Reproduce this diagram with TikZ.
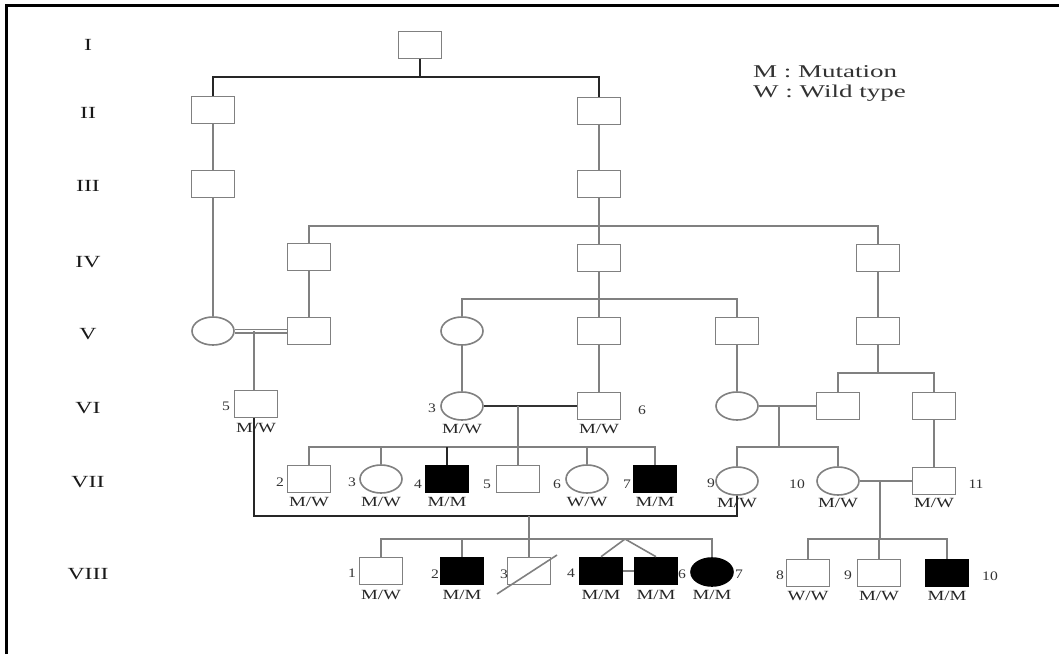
\documentclass[tikz,border=0pt]{standalone}
\usepackage{fontspec}
\setmainfont{Liberation Serif}
\usetikzlibrary{shapes.geometric}
\newcommand{\sx}[2][1.35]{\scalebox{#1}[1]{#2}}
\begin{document}
\begin{tikzpicture}[x=1pt,y=-1pt,
  ln/.style={draw=black!50, line width=1.6pt},
  dk/.style={draw=black!85, line width=2.2pt},
  male/.style={rectangle, draw=black!50, line width=1.6pt, minimum width=43pt, minimum height=27pt, inner sep=0pt},
  female/.style={ellipse, draw=black!50, line width=1.6pt, minimum width=42pt, minimum height=28pt, inner sep=0pt},
  aff/.style={fill=black, draw=black},
  gen/.style={font=\fontsize{17}{17}\selectfont, text=black!90, inner sep=0pt},
  geno/.style={font=\fontsize{14}{14}\selectfont, text=black!85, inner sep=0pt},
  num/.style={font=\fontsize{13}{13}\selectfont, text=black!80, inner sep=0pt},
  leg/.style={font=\fontsize{18}{18}\selectfont, text=black!80, anchor=west, inner sep=0pt}
]
\useasboundingbox (0,0) rectangle (1059,654);
\fill[white] (0,0) rectangle (1059,654);
% frame
\draw[line width=3pt, black] (6,654) -- (6,5) -- (1059,5);

% generation labels
\node[gen] (gI)    at (88,45)  {\sx[1.4]{I}};
\node[gen] (gII)   at (88,113) {\sx[1.4]{II}};
\node[gen] (gIII)  at (88,186) {\sx[1.4]{III}};
\node[gen] (gIV)   at (88,262) {\sx[1.4]{IV}};
\node[gen] (gV)    at (88,334) {\sx[1.4]{V}};
\node[gen] (gVI)   at (88,408) {\sx[1.4]{VI}};
\node[gen] (gVII)  at (88,482) {\sx[1.4]{VII}};
\node[gen] (gVIII) at (88,574) {\sx[1.4]{VIII}};

% legend
\node[leg] (legM) at (753,72) {\sx[1.5]{M : Mutation}};
\node[leg] (legW) at (753,93) {\sx[1.5]{W : Wild type}};

% individuals
\node[male] (I1) at (420,45) {};
\node[male] (II1) at (213,110) {};
\node[male] (II2) at (599,111) {};
\node[male] (III1) at (213,184) {};
\node[male] (III2) at (599,184) {};
\node[male] (IV1) at (309,257) {};
\node[male] (IV2) at (599,258) {};
\node[male] (IV3) at (878,258) {};
\node[female] (V1) at (213,331) {};
\node[male] (V2) at (309,331) {};
\node[female] (V3) at (462,331) {};
\node[male] (V4) at (599,331) {};
\node[male] (V5) at (737,331) {};
\node[male] (V6) at (878,331) {};
\node[male] (VI5) at (256,404) {};
\node[female] (VI3) at (462,406) {};
\node[male] (VI6) at (599,406) {};
\node[female] (VIf) at (737,406) {};
\node[male] (VIm) at (838,406) {};
\node[male] (VIr) at (934,406) {};
\node[male] (VII2) at (309,479) {};
\node[female] (VII3) at (381,479) {};
\node[male,aff] (VII4) at (447,479) {};
\node[male] (VII5) at (518,479) {};
\node[female] (VII6) at (587,479) {};
\node[male,aff] (VII7) at (655,479) {};
\node[female] (VII9) at (737,481) {};
\node[female] (VII10) at (838,481) {};
\node[male] (VII11) at (934,481) {};
\node[male] (VIII1) at (381,571) {};
\node[male,aff] (VIII2) at (462,571) {};
\node[male] (VIII3) at (529,571) {};
\node[male,aff] (VIII4) at (601,571) {};
\node[male,aff] (VIII5) at (656,571) {};
\node[female,aff] (VIII6) at (712,572) {};
\node[male] (VIII8) at (808,573) {};
\node[male] (VIII9) at (879,573) {};
\node[male,aff] (VIII10) at (947,573) {};

% junction coordinates
\coordinate (sI) at (420,77);
\coordinate (sIV) at (599,226);
\coordinate (sV) at (599,299);
\coordinate (sVIr) at (878,373);
\coordinate (mV) at (254,331);
\coordinate (mVI) at (518,406);
\coordinate (sVII) at (518,447);
\coordinate (mVIr) at (779,406);
\coordinate (sVIIr) at (779,447);
\coordinate (mVII) at (880,481);
\coordinate (sVIIIr) at (880,539);
\coordinate (mL) at (529,516);
\coordinate (sVIII) at (529,539);
\coordinate (tw) at (625,539);

% connectors
\draw[dk] (I1.south) -- (sI);
\draw[dk] (II1.north) |- (sI) -| (II2.north);
\draw[ln] (II1) -- (III1);
\draw[ln] (III1) -- (V1);
\draw[ln] (II2) -- (III2);
\draw[ln] (III2.south) -- (sIV);
\draw[ln] (IV1.north) |- (sIV) -| (IV3.north);
\draw[ln] (sIV) -- (IV2.north);
\draw[ln] (IV1) -- (V2);
\draw[ln] (IV2.south) -- (sV) -- (V4.north);
\draw[ln] (V3.north) |- (sV) -| (V5.north);
\draw[ln] (IV3) -- (V6);
\draw[ln] (V6.south) -- (sVIr);
\draw[ln] (VIm.north) |- (sVIr) -| (VIr.north);
\draw[draw=black!50, line width=1.3pt, double=white, double distance=2.4pt] (V1.east) -- (V2.west);
\draw[ln] (mV) -- (mV |- VI5.north);
\draw[ln] (V3) -- (VI3);
\draw[ln] (V4) -- (VI6);
\draw[ln] (V5) -- (VIf);
\draw[draw=black!80, line width=1.6pt] (VI3.east) -- (VI6.west);
\draw[ln] (mVI) -- (VII5.north);
\draw[ln] (VII2.north) |- (sVII) -| (VII7.north);
\draw[ln] (VII3.north) |- (sVII);
\draw[ln] (VII6.north) |- (sVII);
\draw[dk] (VII4.north) -- (VII4.north |- sVII);
\draw[ln] (VIf.east) -- (VIm.west);
\draw[ln] (mVIr) -- (sVIIr);
\draw[ln] (VII9.north) |- (sVIIr) -| (VII10.north);
\draw[ln] (VIr) -- (VII11);
\draw[ln] (VII10.east) -- (VII11.west);
\draw[ln] (mVII) -- (sVIIIr);
\draw[ln] (VIII8.north) |- (sVIIIr) -| (VIII10.north);
\draw[ln] (VIII9.north) |- (sVIIIr);
\draw[dk] (VI5.south -| mV) |- (mL) -| (VII9.south);
\draw[ln] (mL) -- (sVIII);
\draw[ln] (VIII1.north) |- (sVIII) -| (VIII6.north);
\draw[ln] (VIII2.north) |- (sVIII);
\draw[ln] (sVIII) -- (VIII3.north);
\draw[ln] (VIII4.north) -- (tw) -- (VIII5.north);
\draw[ln] (VIII4.east) -- (VIII5.west);
\draw[ln] ([shift={(-32,23)}]VIII3.center) -- ([shift={(28,-16)}]VIII3.center);

% number labels
\node[num] (nVI5) at (226,406) {\sx[1.2]{5}};
\node[num] (nVI3) at (432,408) {\sx[1.2]{3}};
\node[num] (nVI6) at (642,410) {\sx[1.2]{6}};
\node[num] (nVII2) at (280,482) {\sx[1.2]{2}};
\node[num] (nVII3) at (352,482) {\sx[1.2]{3}};
\node[num] (nVII4) at (418,484) {\sx[1.2]{4}};
\node[num] (nVII5) at (487,484) {\sx[1.2]{5}};
\node[num] (nVII6) at (557,484) {\sx[1.2]{6}};
\node[num] (nVII7) at (627,484) {\sx[1.2]{7}};
\node[num] (nVII9) at (711,483) {\sx[1.2]{9}};
\node[num] (nVII10) at (797,484) {\sx[1.2]{10}};
\node[num] (nVII11) at (976,484) {\sx[1.2]{11}};
\node[num] (nVIII1) at (352,573) {\sx[1.2]{1}};
\node[num] (nVIII2) at (435,574) {\sx[1.2]{2}};
\node[num] (nVIII3) at (504,574) {\sx[1.2]{3}};
\node[num] (nVIII4) at (571,573) {\sx[1.2]{4}};
\node[num] (nVIII6) at (682,574) {\sx[1.2]{6}};
\node[num] (nVIII7) at (739,574) {\sx[1.2]{7}};
\node[num] (nVIII8) at (780,575) {\sx[1.2]{8}};
\node[num] (nVIII9) at (848,575) {\sx[1.2]{9}};
\node[num] (nVIII10) at (990,576) {\sx[1.2]{10}};

% genotype labels
\node[geno] (gtVI5) at (256,428) {\sx{M/W}};
\node[geno] (gtVI3) at (462,429) {\sx{M/W}};
\node[geno] (gtVI6) at (599,429) {\sx{M/W}};
\node[geno] (gtVII2) at (309,502) {\sx{M/W}};
\node[geno] (gtVII3) at (381,502) {\sx{M/W}};
\node[geno] (gtVII4) at (447,502) {\sx{M/M}};
\node[geno] (gtVII6) at (587,502) {\sx{W/W}};
\node[geno] (gtVII7) at (655,502) {\sx{M/M}};
\node[geno] (gtVII9) at (737,503) {\sx{M/W}};
\node[geno] (gtVII10) at (838,503) {\sx{M/W}};
\node[geno] (gtVII11) at (934,503) {\sx{M/W}};
\node[geno] (gtVIII1) at (381,595) {\sx{M/W}};
\node[geno] (gtVIII2) at (462,595) {\sx{M/M}};
\node[geno] (gtVIII4) at (601,595) {\sx{M/M}};
\node[geno] (gtVIII5) at (656,595) {\sx{M/M}};
\node[geno] (gtVIII6) at (712,595) {\sx{M/M}};
\node[geno] (gtVIII8) at (808,596) {\sx{W/W}};
\node[geno] (gtVIII9) at (879,596) {\sx{M/W}};
\node[geno] (gtVIII10) at (947,596) {\sx{M/M}};
\end{tikzpicture}
\end{document}
